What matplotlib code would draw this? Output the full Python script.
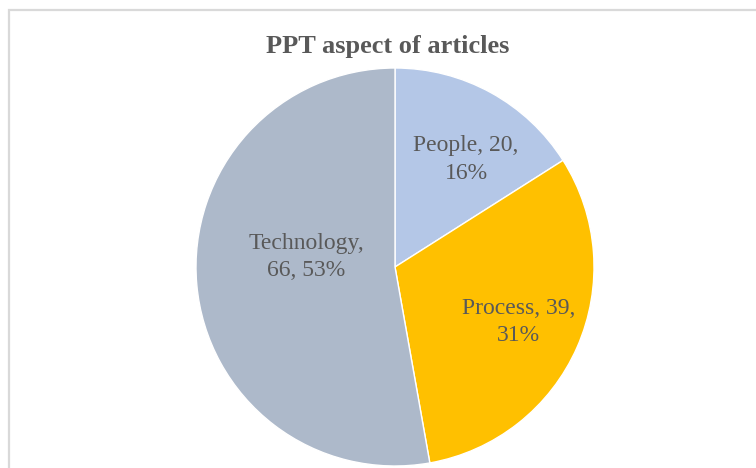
import matplotlib
matplotlib.use("Agg")
import matplotlib.pyplot as plt
from matplotlib.patches import Rectangle

categories = ["People", "Process", "Technology"]
counts = [20, 39, 66]
colors = ["#B4C7E7", "#FFC000", "#ADB9CA"]
# label anchor points (in pie-radius units)
label_pos = [(0.357, 0.54), (0.62, -0.276), (-0.445, 0.05)]
label_breaks = [" ", " ", "\n"]

plt.rcParams['font.family'] = ['Liberation Serif', 'DejaVu Serif']
TEXT = "#595959"

fig = plt.figure(figsize=(7.56, 4.68), dpi=100)
W, H = 756, 468

# chart frame
fig.patches.append(Rectangle((9 / W, -0.1), 1.2, 1 - 10 / H + 0.1, transform=fig.transFigure,
                             fill=False, edgecolor="#D9D9D9", linewidth=1.6, figure=fig))

cx, cy, r = 395, 267, 199
ax = fig.add_axes([(cx - r) / W, (H - cy - r) / H, 2 * r / W, 2 * r / H])
ax.pie(counts, colors=colors, startangle=90, counterclock=False,
       wedgeprops=dict(edgecolor="white", linewidth=1))
ax.set_xlim(-1, 1)
ax.set_ylim(-1, 1)
ax.set_aspect("equal")
ax.axis("off")

total = sum(counts)
for name, n, (x, y), br in zip(categories, counts, label_pos, label_breaks):
    pct = round(100 * n / total)
    if br == "\n":
        txt = f"{name},\n{n}, {pct}%"
    else:
        txt = f"{name}, {n},\n{pct}%"
    ax.text(x, y, txt, ha="center", va="center", fontsize=17, color=TEXT, linespacing=1.38)

fig.text(388 / W, 1 - 46 / H, "PPT aspect of articles", ha="center", va="center",
         fontsize=19, fontweight="bold", color=TEXT)

fig.savefig("out.png", dpi=100)
